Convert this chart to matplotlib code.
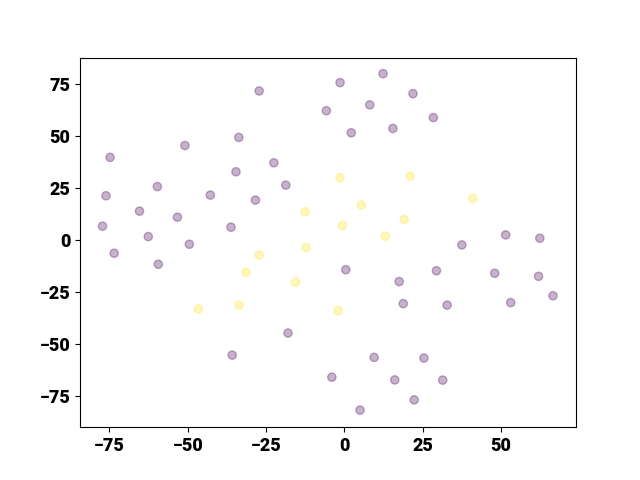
import matplotlib
matplotlib.use("Agg")
import matplotlib.pyplot as plt
import numpy as np

# class 0 (purple) points
x0 = [12.35, -1.37, -27.2, 21.9, 8.1, -5.75, 28.4, 15.5, 2.2, -33.7, -50.9, -74.8,
      -22.5, -34.6, -18.7, -59.7, -76.1, -42.8, -28.4, -65.4, -53.3, -77.2, -36.2,
      -62.6, -49.5, -73.5, -59.4, 37.5, 51.5, 62.4, 0.45, 29.4, 48.0, 62.0, 17.5,
      66.6, 18.8, 32.8, 53.1, -18.0, -35.8, 9.5, 25.4, -4.0, 16.1, 31.4, 22.3, 5.0]
y0 = [79.8, 75.5, 71.5, 70.2, 64.8, 62.0, 58.7, 53.5, 51.4, 49.2, 45.3, 39.6,
      37.0, 32.7, 26.3, 25.6, 21.2, 21.5, 19.1, 13.8, 10.9, 6.6, 6.1,
      1.6, -2.1, -6.4, -11.7, -2.4, 2.4, 0.8, -14.3, -14.8, -16.0, -17.5, -20.0,
      -26.8, -30.6, -31.3, -30.1, -44.7, -55.3, -56.4, -56.7, -65.9, -67.2, -67.3, -76.8, -81.7]
# class 1 (yellow) points
x1 = [-1.4, 21.0, 41.0, 5.4, 19.1, -0.6, 13.1, -12.5, -12.2, -27.2, -31.4, -15.6, -46.6, -33.6, -2.0]
y1 = [29.8, 30.6, 19.9, 16.7, 9.8, 6.9, 1.8, 13.5, -3.7, -7.2, -15.5, -20.3, -33.2, -31.3, -34.0]

xs = np.array(x0 + x1)
ys = np.array(y0 + y1)
labels = np.array([0] * len(x0) + [1] * len(x1))

plt.rcParams['font.family'] = ['Roboto', 'DejaVu Sans']

fig = plt.figure(figsize=(6.4, 4.8), dpi=100)
ax = fig.add_subplot(111)
ax.scatter(xs, ys, c=labels, cmap="viridis", alpha=0.3)
ax.set_xlim(-84.4, 73.95)
ax.set_ylim(-89.9, 87.5)
ax.set_xticks([-75, -50, -25, 0, 25, 50])
ax.set_yticks([-75, -50, -25, 0, 25, 50, 75])
for lab in ax.get_xticklabels() + ax.get_yticklabels():
    lab.set_fontweight("black")
    lab.set_fontsize(13)
fig.savefig("out.png", dpi=100)
